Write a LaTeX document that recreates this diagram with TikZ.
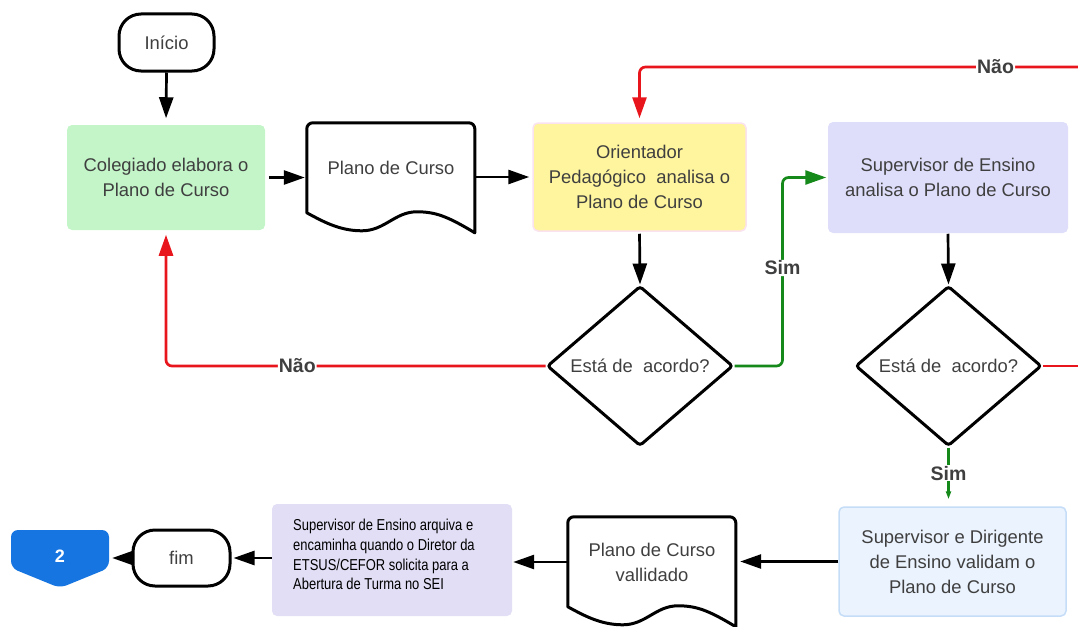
\documentclass[tikz,border=0pt]{standalone}
\usepackage{fontspec}
\setmainfont{Liberation Sans}
\newfontfamily\narrowsans{Liberation Sans}[FakeStretch=0.82]
\usetikzlibrary{shapes.geometric,arrows.meta,calc}

\definecolor{txtgray}{HTML}{3F3F3F}
\definecolor{flowred}{HTML}{E8161C}
\definecolor{flowgreen}{HTML}{15891A}
\definecolor{greenfill}{HTML}{C4F5C9}
\definecolor{yellowfill}{HTML}{FFF59E}
\definecolor{pinkline}{HTML}{FBE2EF}
\definecolor{lavfill}{HTML}{DEDEFB}
\definecolor{bluefill}{HTML}{EBF3FE}
\definecolor{blueline}{HTML}{C6DDF8}
\definecolor{notefill}{HTML}{E1DEF5}
\definecolor{pageblue}{HTML}{1775E1}

\tikzset{
  base/.style={font=\fontsize{18.4}{25}\selectfont, text=txtgray, align=center, inner sep=0pt},
  terminal/.style={base, draw=black, line width=3pt, rounded corners=22pt},
  process/.style={base, rounded corners=5pt, line width=1.5pt},
  decision/.style={base, diamond, draw=black, line width=3pt, rounded corners=3pt,
    minimum width=186pt, minimum height=160pt},
  docframe/.style={draw=black, line width=3pt, line join=round},
  conn/.style={line width=2.7pt, -{Triangle[length=21pt,width=14pt]}},
  tag/.style={font=\bfseries\fontsize{19.5}{20}\selectfont, text=txtgray, fill=white, inner sep=1pt},
}

% document symbol: straight top with rounded corners, wavy bottom
\newcommand{\docpath}[1]{%
  \draw[docframe, shift={(#1.north west)}]
    (0,90) -- (0,6) arc[start angle=180,end angle=270,radius=6]
    -- (162,0) arc[start angle=270,end angle=360,radius=6]
    -- (168,110) .. controls (140,93) and (128,89) .. (110,89)
    .. controls (88,89) and (78,108) .. (55,108)
    .. controls (32,108) and (15,98) .. (0,90) -- cycle;}

\begin{document}
\begin{tikzpicture}[x=1pt,y=-1pt]
\useasboundingbox (0,0) rectangle (1078,626);

% upper row
\node[terminal, minimum width=95pt, minimum height=57pt] (inicio) at (166.5,42.5) {Início};
\node[process, fill=greenfill, minimum width=198pt, minimum height=105pt] (coleg) at (166,177.5)
  {Colegiado elabora o\\Plano de Curso};
\node[base, minimum width=168pt, minimum height=90pt] (doc1) at (391,168) {Plano de Curso};
\docpath{doc1}
\node[process, fill=yellowfill, draw=pinkline, minimum width=213pt, minimum height=108pt] (orient) at (639.5,177)
  {Orientador\\Pedagógico~ analisa o\\Plano de Curso};
\node[process, fill=lavfill, minimum width=240pt, minimum height=111pt] (super) at (948,177.5)
  {Supervisor de Ensino\\analisa o Plano de Curso};

% decisions
\node[decision] (d1) at (640,366) {Está de~ acordo?};
\node[decision] (d2) at (948.5,366) {Está de~ acordo?};

% lower row
\node[process, fill=bluefill, draw=blueline, minimum width=227pt, minimum height=109pt] (valid) at (952.5,561.5)
  {Supervisor e Dirigente\\de Ensino validam o\\Plano de Curso};
\node[base, minimum width=168pt, minimum height=90pt] (doc2) at (652,562) {Plano de Curso\\vallidado};
\docpath{doc2}
\node[fill=notefill, rounded corners=5pt, minimum width=240pt, minimum height=112pt, inner sep=0pt] (arq) at (392,560) {};
\node[font=\narrowsans\fontsize{15.8}{19.7}\selectfont, text=black, align=left, anchor=north west, inner sep=0pt]
  (arqtext) at (293,519) {Supervisor de Ensino arquiva e\\encaminha quando o Diretor da\\ETSUS/CEFOR solicita para a\\Abertura de Turma no SEI};
\node[terminal, minimum width=97pt, minimum height=56pt] (fim) at (181.5,558) {fim};
\fill[pageblue, rounded corners=7pt] (11,530) -- (109,530) -- (109,568) -- (60,588) -- (11,568) -- cycle;
\node[font=\bfseries\fontsize{18}{20}\selectfont, text=white, minimum width=98pt, minimum height=38pt, inner sep=0pt]
  (two) at (60,556) {2};

% loose ends of the returns that continue past the right border
\coordinate (outtop) at (1078,67);
\coordinate (outmid) at (1078,366);

% connectors
\draw[conn, shorten >=6pt] (inicio.south) -- (coleg.north);
\draw[conn, shorten <=3pt, shorten >=2pt] (coleg.east) -- (coleg.east -| doc1.west);
\draw[conn, shorten >=3pt] (doc1.east |- orient.west) -- (orient.west);
\draw[conn, shorten <=2pt] (orient.south) -- (d1.north);
\draw[conn] (super.south) -- (d2.north);
\draw[conn, flowgreen, rounded corners=6pt, shorten >=1pt] (d1.east) -- ++(48,0)
  |- node[tag, pos=0.26] {Sim} (super.west);
\draw[conn, flowred, rounded corners=6pt, shorten >=4pt] (d1.west)
  -| node[tag, pos=0.327] {Não} (coleg.south);
\draw[conn, flowred, rounded corners=6pt, shorten >=4pt] (outtop)
  -| node[tag, pos=0.094] {Não} (orient.north);
\draw[line width=2.5pt, flowred] (d2.east) -- (outmid);
\draw[line width=2.5pt, flowgreen, -{Triangle[length=8pt,width=5pt]}, shorten >=7pt] (d2.south) --
  node[tag, pos=0.435] {Sim} (d2.south |- valid.north);
\draw[conn, shorten >=4pt] (valid.west) -- (valid.west -| doc2.east);
\draw[conn, shorten >=1pt] (doc2.west) -- (doc2.west -| arq.east);
\draw[conn, shorten >=2pt] (fim.east -| arq.west) -- (fim.east);
\draw[conn, shorten >=3pt] (fim.west) -- (fim.west -| two.east);
\end{tikzpicture}
\end{document}
